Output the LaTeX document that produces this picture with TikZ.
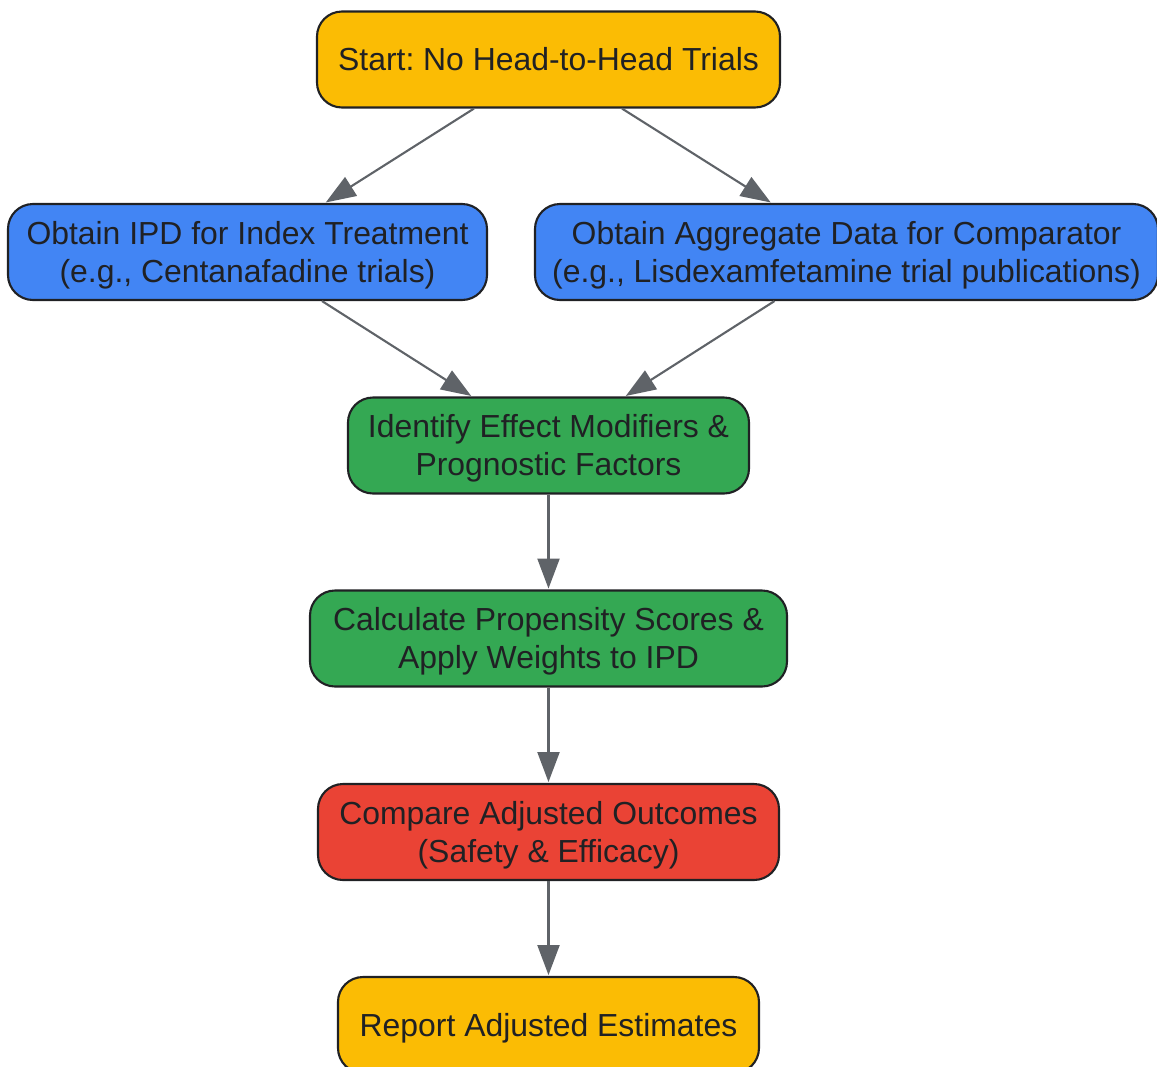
\documentclass[tikz,border=0pt]{standalone}
\usepackage{fontspec}
\setmainfont{Liberation Sans}
\frenchspacing
\usetikzlibrary{arrows.meta}
\definecolor{stepyellow}{HTML}{FBBC04}
\definecolor{stepblue}{HTML}{4285F4}
\definecolor{stepgreen}{HTML}{34A853}
\definecolor{stepred}{HTML}{EA4335}
\definecolor{boxline}{HTML}{202124}
\definecolor{arrowgray}{HTML}{5F6368}
\tikzset{
  flowbox/.style={draw=boxline, line width=1.2pt, rounded corners=0.5cm, align=center,
    text=boxline, font=\fontsize{18.15}{21.5}\selectfont, minimum height=1.92cm, inner sep=0pt,
    text height=17pt, text depth=4.1pt},
  twoline/.style={text height=38.5pt},
  flowarrow/.style={draw=arrowgray, line width=1.2pt, -{Triangle[length=0.6cm,width=0.44cm]}, shorten >=0.5pt}
}
\begin{document}
\begin{tikzpicture}
\useasboundingbox (0,0) rectangle (23.14,-21.32);
\node[flowbox,fill=stepyellow,minimum width=9.26cm] (start) at (10.97,-1.19) {Start: No Head-to-Head Trials};
\node[flowbox,twoline,fill=stepblue,minimum width=9.58cm] (ipd) at (4.95,-5.04) {Obtain IPD for Index Treatment\\(e.g., Centanafadine trials)};
\node[flowbox,twoline,fill=stepblue,minimum width=12.46cm] (agg) at (16.93,-5.04) {Obtain Aggregate Data for Comparator\\(e.g., Lisdexamfetamine trial publications)};
\node[flowbox,twoline,fill=stepgreen,minimum width=8.02cm] (ident) at (10.97,-8.91) {Identify Effect Modifiers \&\\Prognostic Factors};
\node[flowbox,twoline,fill=stepgreen,minimum width=9.54cm] (calc) at (10.97,-12.77) {Calculate Propensity Scores \&\\Apply Weights to IPD};
\node[flowbox,twoline,fill=stepred,minimum width=9.22cm] (comp) at (10.97,-16.64) {Compare Adjusted Outcomes\\(Safety \& Efficacy)};
\node[flowbox,fill=stepyellow,minimum width=8.42cm] (report) at (10.97,-20.5) {Report Adjusted Estimates};

% branches
\draw[flowarrow] ([xshift=-1.49cm]start.south) -- ([xshift=1.55cm]ipd.north);
\draw[flowarrow] ([xshift=1.47cm]start.south) -- ([xshift=-1.5cm]agg.north);
\draw[flowarrow] ([xshift=1.49cm]ipd.south) -- ([xshift=-1.53cm]ident.north);
\draw[flowarrow] ([xshift=-1.44cm]agg.south) -- ([xshift=1.53cm]ident.north);

% main line
\draw[flowarrow] (ident) -- (calc);
\draw[flowarrow] (calc) -- (comp);
\draw[flowarrow] (comp) -- (report);
\end{tikzpicture}
\end{document}
